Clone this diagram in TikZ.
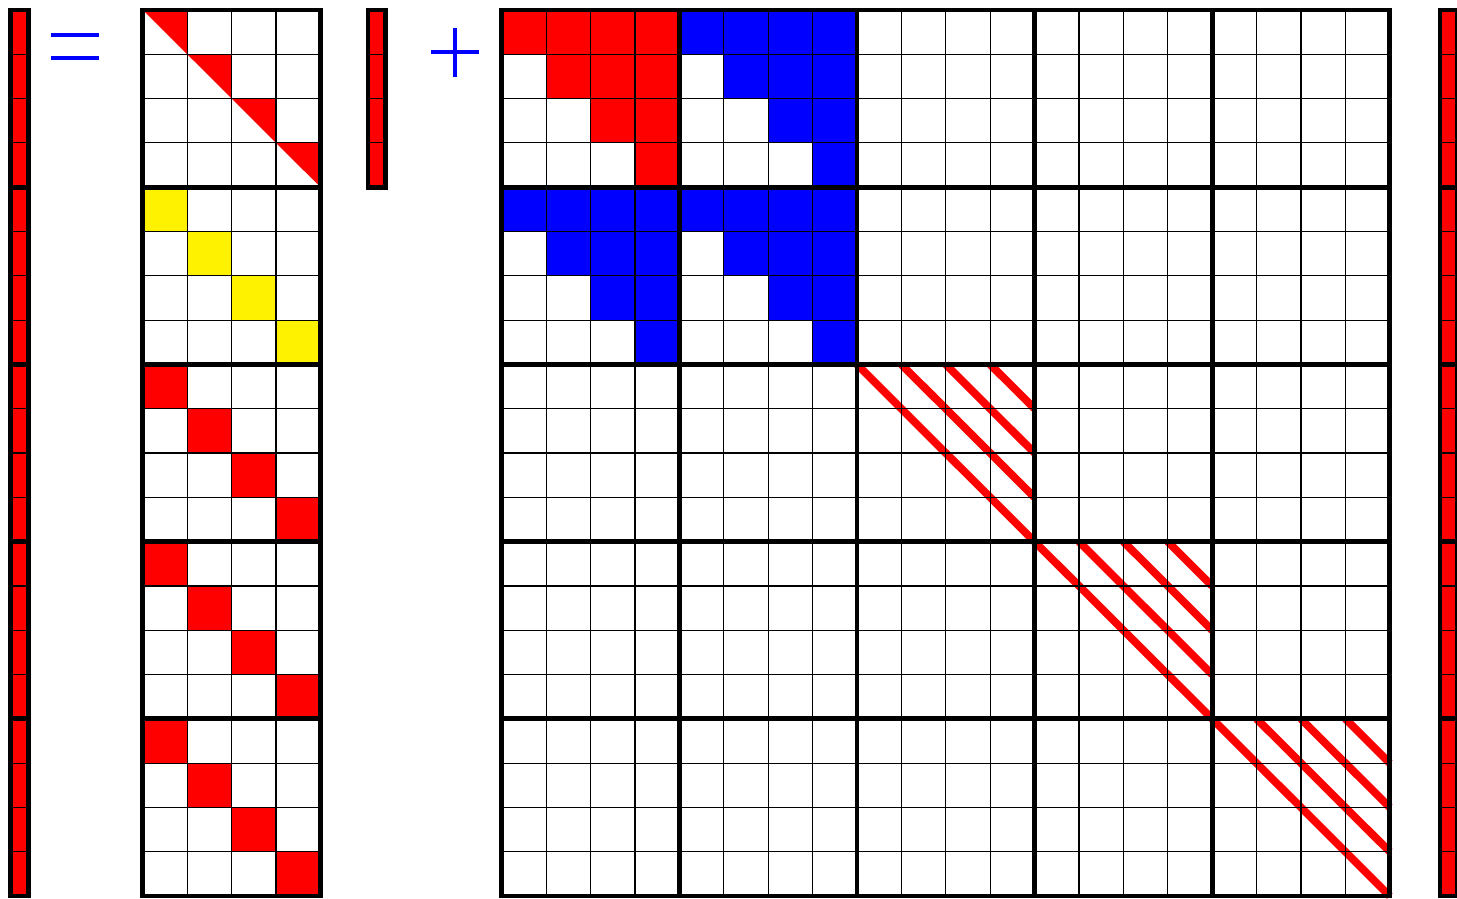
\documentclass[tikz,border=0pt]{standalone}
\begin{document}
\begin{tikzpicture}[x=22.2pt,y=-22.15pt,
  thinline/.style={line width=0.6pt},
  thickline/.style={line width=2.4pt},
  diagline/.style={red,line width=3.9pt},
  opsign/.style={blue,line width=2pt}]
\useasboundingbox (0,0) rectangle (32.815,20.293);

% left vector
\begin{scope}[shift={(0.2432,0.2257)}]
\fill[red] (0,0) rectangle (0.4,20);
\foreach \i in {1,...,19} \draw[thinline] (0,\i) -- (0.4,\i);
\foreach \i in {4,8,...,16} \draw[thickline] (0,\i) -- (0.4,\i);
\draw[thickline] (0,0) rectangle (0.4,20);
\end{scope}

% equals sign
\draw[opsign] (1.149,0.801) -- (2.23,0.801);
\draw[opsign] (1.149,1.298) -- (2.23,1.298);

% matrix A (4 x 20)
\begin{scope}[shift={(3.218,0.2257)}]
\foreach \i in {0,...,3} \fill[red] (\i,\i) -- (\i+1,\i) -- (\i+1,\i+1) -- cycle;
\foreach \i in {0,...,3} \fill[yellow] (\i,4+\i) rectangle (\i+1,5+\i);
\foreach \b in {8,12,16} \foreach \i in {0,...,3} \fill[red] (\i,\b+\i) rectangle (\i+1,\b+\i+1);
\foreach \i in {1,...,19} \draw[thinline] (0,\i) -- (4,\i);
\foreach \j in {1,...,3} \draw[thinline] (\j,0) -- (\j,20);
\foreach \i in {4,8,...,16} \draw[thickline] (0,\i) -- (4,\i);
\draw[thickline] (0,0) rectangle (4,20);
\end{scope}

% small vector
\begin{scope}[shift={(8.288,0.2257)}]
\fill[red] (0,0) rectangle (0.4,4);
\foreach \i in {1,...,3} \draw[thinline] (0,\i) -- (0.4,\i);
\draw[thickline] (0,0) rectangle (0.4,4);
\end{scope}

% plus sign
\draw[opsign] (9.707,1.181) -- (10.788,1.181);
\draw[opsign] (10.248,0.639) -- (10.248,1.731);

% big matrix (20 x 20)
\begin{scope}[shift={(11.3,0.2257)}]
\foreach \r in {0,...,3} \fill[red] (\r,\r) rectangle (4,\r+1);
\foreach \ox/\oy in {4/0,0/4,4/4} \foreach \r in {0,...,3} \fill[blue] (\ox+\r,\oy+\r) rectangle (\ox+4,\oy+\r+1);
\foreach \k in {8,12,16} {
  \draw[diagline] (\k,\k) -- (\k+4,\k+4);
  \foreach \s in {1,2,3} \draw[diagline] (\k+\s,\k) -- (\k+4,\k+4-\s);
}
\foreach \i in {1,...,19} {
  \draw[thinline] (0,\i) -- (20,\i);
  \draw[thinline] (\i,0) -- (\i,20);
}
\foreach \i in {4,8,...,16} {
  \draw[thickline] (0,\i) -- (20,\i);
  \draw[thickline] (\i,0) -- (\i,20);
}
\draw[thickline] (0,0) rectangle (20,20);
\end{scope}

% right vector
\begin{scope}[shift={(32.432,0.2257)}]
\fill[red] (0,0) rectangle (0.4,20);
\foreach \i in {1,...,19} \draw[thinline] (0,\i) -- (0.4,\i);
\foreach \i in {4,8,...,16} \draw[thickline] (0,\i) -- (0.4,\i);
\draw[thickline] (0,0) rectangle (0.4,20);
\end{scope}
\end{tikzpicture}
\end{document}
